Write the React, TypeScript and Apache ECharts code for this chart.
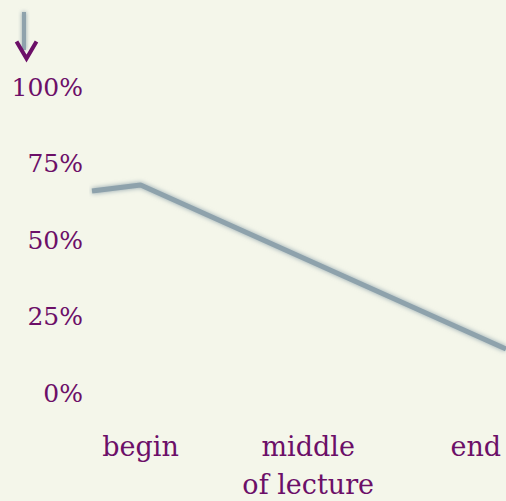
import React, { useEffect, useRef } from "react";
import * as echarts from "echarts";

const xPositions: number[] = [-0.29, 0, 2.18];
const shareValues: number[] = [66, 68, 14.4];
const xTickValues: number[] = [0, 1, 2];
const xTickLabels: string[] = ["begin", "middle\nof lecture", "end"];
const yTicks: number[] = [0, 25, 50, 75, 100];

const PURPLE = "#6c0f68";
const LINE = "#8ea2ac";
const BG = "#f4f6ea";
const FONT = "DejaVu Serif";

export default function App() {
  const ref = useRef<HTMLDivElement>(null);
  useEffect(() => {
    if (!ref.current) return;
    const chart = echarts.init(ref.current, undefined, { renderer: "svg" });
    chart.setOption({
      animation: false,
      backgroundColor: BG,
      grid: {
        left: 92,
        right: 0,
        top: 87,
        bottom: 108,
        containLabel: false,
        outerBoundsMode: "none",
      },
      xAxis: {
        type: "value",
        min: xPositions[0],
        max: xPositions[xPositions.length - 1],
        axisLine: { show: false },
        axisTick: { show: false },
        splitLine: { show: false },
        axisLabel: {
          customValues: xTickValues,
          formatter: (v: number) => {
            const i = xTickValues.findIndex((t) => Math.abs(t - v) < 1e-6);
            return i >= 0 ? xTickLabels[i] : "";
          },
          color: PURPLE,
          fontFamily: FONT,
          fontSize: 27,
          lineHeight: 38,
          margin: 34,
          hideOverlap: false,
        },
      },
      yAxis: {
        type: "value",
        min: yTicks[0],
        max: yTicks[yTicks.length - 1],
        interval: 25,
        axisLine: { show: false },
        axisTick: { show: false },
        splitLine: { show: false },
        axisLabel: {
          formatter: (v: number) => `${v}%`,
          color: PURPLE,
          fontFamily: FONT,
          fontSize: 25,
          margin: 9,
        },
      },
      series: [
        {
          type: "line",
          data: xPositions.map((x, i) => [x, shareValues[i]]),
          symbol: "none",
          clip: false,
          lineStyle: {
            color: LINE,
            width: 5,
            shadowBlur: 5,
            shadowColor: LINE,
          },
        },
      ],
      graphic: [
        {
          type: "rect",
          left: 22,
          top: 12,
          shape: { x: 0, y: 0, width: 4, height: 38 },
          style: { fill: LINE, shadowBlur: 4, shadowColor: LINE },
          z: 10,
        },
        {
          type: "polyline",
          left: 14,
          top: 39,
          shape: { points: [[0, 0], [10, 17], [20, 0]] },
          style: { stroke: PURPLE, lineWidth: 4, fill: null },
          z: 11,
        },
      ],
    });
    return () => chart.dispose();
  }, []);
  return (
    <div
      ref={ref}
      style={{ position: "fixed", left: 0, top: 0, width: 506, height: 501 }}
    />
  );
}
